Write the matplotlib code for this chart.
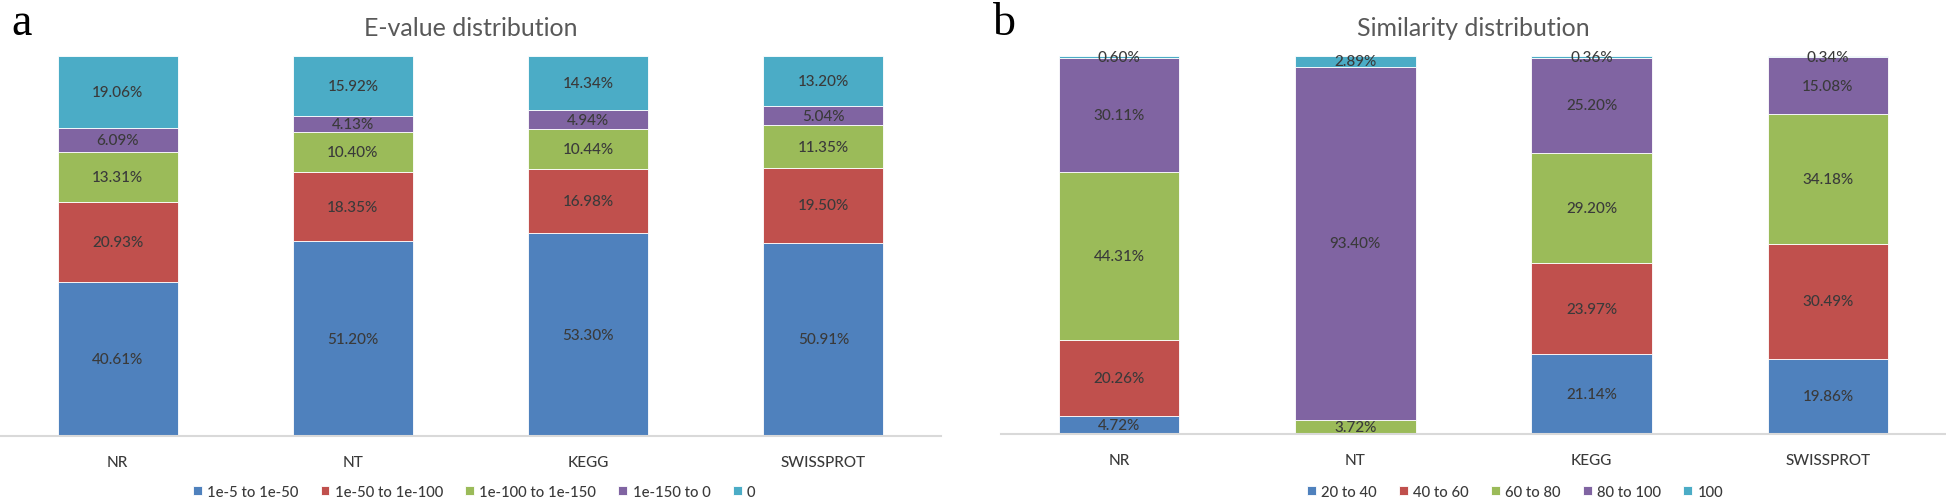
import matplotlib
matplotlib.use("Agg")
import matplotlib.pyplot as plt
import numpy as np

plt.rcParams['font.family'] = ['Lato', 'DejaVu Sans']

categories = ["NR", "NT", "KEGG", "SWISSPROT"]

evalue_labels = ["1e-5 to 1e-50", "1e-50 to 1e-100", "1e-100 to 1e-150", "1e-150 to 0", "0"]
evalue_1e5_1e50 = [40.61, 51.20, 53.30, 50.91]
evalue_1e50_1e100 = [20.93, 18.35, 16.98, 19.50]
evalue_1e100_1e150 = [13.31, 10.40, 10.44, 11.35]
evalue_1e150_0 = [6.09, 4.13, 4.94, 5.04]
evalue_0 = [19.06, 15.92, 14.34, 13.20]

sim_labels = ["20 to 40", "40 to 60", "60 to 80", "80 to 100", "100"]
sim_20_40 = [4.72, 0.0, 21.14, 19.86]
sim_40_60 = [20.26, 0.0, 23.97, 30.49]
sim_60_80 = [44.31, 3.72, 29.20, 34.18]
sim_80_100 = [30.11, 93.40, 25.20, 15.08]
sim_100 = [0.60, 2.89, 0.36, 0.34]

colors = ["#4F81BD", "#C0504D", "#9BBB59", "#8064A2", "#4BACC6"]
text_col = "#3A3A3A"

W, H = 1946, 502
fig = plt.figure(figsize=(W / 100, H / 100), dpi=100)


def px_axes(x0, x1, ytop, ybot):
    return fig.add_axes([x0 / W, 1 - ybot / H, (x1 - x0) / W, (ybot - ytop) / H])


def draw(ax, series, labels, title, legend_cx):
    x = np.arange(len(categories))
    bottom = np.zeros(len(categories))
    handles = []
    for vals, lab, col in zip(series, labels, colors):
        vals = np.array(vals)
        b = ax.bar(x, vals, 0.51, bottom=bottom, color=col, edgecolor="white",
                   linewidth=0.6, label=lab)
        handles.append(b)
        for xi, v, bt in zip(x, vals, bottom):
            if v > 0:
                ax.text(xi, bt + v / 2, f"{v:.2f}%", ha="center", va="center",
                        fontsize=11, color=text_col, fontweight="medium")
        bottom = bottom + vals
    ax.set_xlim(-0.5, len(categories) - 0.5)
    ax.set_ylim(0, 100)
    ax.set_xticks(x)
    ax.set_xticklabels(categories, fontsize=11, color=text_col, fontweight="medium")
    ax.tick_params(axis="x", length=0, pad=14)
    ax.set_yticks([])
    for s in ["top", "right", "left"]:
        ax.spines[s].set_visible(False)
    ax.spines["bottom"].set_color("#D9D9D9")
    ax.spines["bottom"].set_linewidth(1.5)
    ax.set_title(title, fontsize=18, color="#595959", pad=15)
    leg = fig.legend(handles=handles, labels=labels, loc="center",
                     bbox_to_anchor=(legend_cx / W, 1 - 493 / H), ncol=5, frameon=False,
                     fontsize=10.7, handlelength=0.6, handleheight=0.6, handletextpad=0.35,
                     columnspacing=1.5, labelcolor=text_col)
    for t in leg.get_texts():
        t.set_fontweight("medium")


ax1 = px_axes(0, 941, 57, 437)
draw(ax1, [evalue_1e5_1e50, evalue_1e50_1e100, evalue_1e100_1e150, evalue_1e150_0, evalue_0],
     evalue_labels, "E-value distribution", 474)

ax2 = px_axes(1001, 1946, 57, 435)
draw(ax2, [sim_20_40, sim_40_60, sim_60_80, sim_80_100, sim_100],
     sim_labels, "Similarity distribution", 1515)

fig.text(11 / W, 1 - 35 / H, "a", fontsize=33, family="Liberation Serif", color="black",
         va="baseline")
fig.text(993 / W, 1 - 35 / H, "b", fontsize=33, family="Liberation Serif", color="black",
         va="baseline")

fig.savefig("out.png", dpi=100)
